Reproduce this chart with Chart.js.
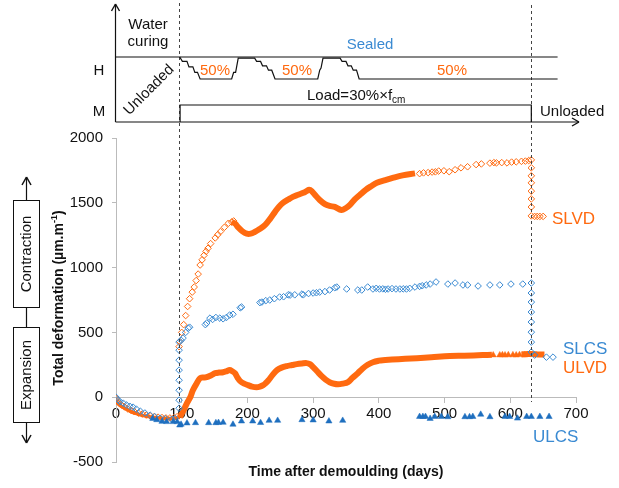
<!DOCTYPE html>
<html><head><meta charset="utf-8">
<script src="https://cdn.jsdelivr.net/npm/chart.js@4"></script>
<style>html,body{margin:0;padding:0;background:#fff;overflow:hidden}</style>
</head><body>
<canvas id="c" width="619" height="488" style="width:619px;height:488px;display:block"></canvas>
<script>
// ---------- DATA (day, total deformation µm/m) ----------
const xTicks = [0,100,200,300,400,500,600,700];
const yTicks = [-500,0,500,1000,1500,2000];

// SLVD (orange open diamonds)
const slvdMarkers = [
 [0,-10],[2,-30],[5,-45],[9,-62],[13,-75],[18,-90],[23,-102],[28,-112],[34,-122],[40,-130],[46,-138],[52,-144],[58,-150],[64,-154],[70,-157],[76,-160],[82,-160],[88,-158],[93,-150],
 [96,390],[97,430],[100,500],[103,560],[106,630],[109,700],[112,760],[116,811],[119,850],[122,900],[125,950],[128,1020],[131,1060],[134,1095],[137,1125],[140,1149],[144,1185],[151,1229],[155,1255],[159,1278],[165,1311],[171,1342],[176,1352],[179,1360],
 [462,1725],[468,1731],[475,1733],[481,1737],[486,1739],[491,1745],[499,1747],[507,1740],[516,1755],[525,1770],[535,1778],[548,1795],[556,1800],[569,1806],[575,1810],[579,1808],[587,1810],[595,1808],[602,1814],[609,1816],[617,1820],[623,1822],[628,1826],[632,1831],
 [632,1770],[632,1708],[632,1654],[632,1590],[632,1530],[632,1468],[632,1399],[637,1395],[641,1395],[645,1395],[650,1395]
];
// SLVD dense part (markers overlap into a band)
const slvdBand = [
 [176,1352],[181,1340],[186,1310],[192,1282],[199,1262],[205,1262],[211,1275],[218,1295],[227,1329],[235,1380],[242,1430],[248,1470],[254,1499],[262,1525],[269,1546],[277,1562],[285,1577],[290,1590],[294,1600],[298,1590],[303,1560],[310,1522],[318,1490],[325,1476],[333,1468],[343,1445],[350,1460],[356,1484],[363,1525],[371,1561],[380,1600],[389,1630],[397,1654],[410,1675],[421,1692],[436,1712],[455,1727]
];
// SLCS (blue open diamonds)
const slcsMarkers = [
 [0,0],[3,-20],[6,-35],[11,-46],[16,-60],[21,-70],[26,-77],[31,-92],[37,-108],[44,-122],[52,-139],[59,-150],[67,-162],[75,-166],[85,-170],[90,-165],
 [96,-85],[96,-23],[96,54],[96,131],[96,209],[96,286],[96,363],[96,425],
 [99,440],[102,456],[106,500],[110,533],[112,540],[136,560],[138,572],[143,610],[147,600],[152,615],[158,610],[163,605],[168,615],[173,634],[178,640],[189,690],[191,696],[219,730],[222,734],[228,745],[234,750],[241,760],[249,773],[255,775],[262,790],[265,788],[272,790],[283,796],[285,790],[293,800],[300,804],[305,806],[310,811],[318,815],[325,827],[333,845],[336,850],[351,835],[368,827],[374,827],[383,850],[391,835],[396,840],[401,835],[406,836],[410,833],[414,835],[420,838],[426,835],[432,835],[437,836],[442,835],[447,840],[455,850],[462,855],[466,860],[472,866],[478,873],[487,889],[505,873],[516,881],[528,866],[535,866],[551,858],[569,866],[584,866],[601,873],[619,873],[632,881],
 [632,804],[632,734],[632,657],[632,580],[632,502],[632,425],[632,348],[637,325],[655,309],[665,309]
];
// ULVD (orange, dense band + filled triangles)
const ulvdEarly = [
 [0,-20],[3,-50],[8,-70],[15,-90],[22,-110],[30,-125],[40,-140],[50,-150],[60,-158],[70,-162],[80,-165],[90,-163],[97,-155]
];
const ulvdBand = [
 [97,-155],[103,-100],[108,-46],[113,0],[117,54],[122,100],[128,147],[133,152],[138,155],[145,170],[151,185],[157,190],[163,193],[168,200],[173,209],[177,200],[181,185],[185,150],[189,124],[195,105],[201,93],[207,82],[214,77],[219,82],[224,93],[228,110],[232,131],[238,170],[245,209],[252,228],[260,240],[268,248],[275,255],[283,260],[290,263],[295,255],[300,232],[306,200],[313,162],[319,135],[325,116],[332,104],[338,100],[345,105],[353,116],[360,150],[368,185],[375,220],[383,250],[391,270],[400,282],[406,286],[420,290],[440,296],[458,301],[480,308],[508,317],[530,320],[558,325],[572,327],
 [596,null],
 [617,330],[622,332],[627,333],[632,333],[637,332],[642,330],[647,330],[652,330]
];
const ulvdMarkers = [[574,325],[584,325],[588,326],[592,325],[597,326],[604,326],[609,325],[614,327],[622,326]];
// ULCS (blue filled triangles)
const ulcsMarkers = [
 [56,-165],[62,-175],[70,-188],[77,-190],[87,-190],[93,-190],
 [97,-216],[99,-210],[108,-200],[121,-198],[141,-198],[152,-198],[156,-196],[163,-195],[178,-210],[191,-185],[208,-185],[220,-197],[233,-180],[246,-180],[283,-175],[300,-177],[324,-185],[345,-180],
 [462,-150],[467,-150],[471,-150],[478,-165],[485,-150],[495,-150],[505,-152],[531,-152],[538,-152],[543,-150],[555,-133],[569,-152],[592,-150],[599,-150],[611,-163],[625,-150],[632,-150],[645,-150],[659,-150]
];
// loading events (days): loading and unloading
const eventDays = [96, 632];
// humidity history path in the schematic: [day, level] (0 = sealed, 1 = 50 % RH)
const humidityPath = [
 [97,0],[101,0.2],[108,0.2],[111,0.45],[117,0.45],[120,0.7],[124,0.7],[128,1],[176,1],[179,0.7],[182,0.7],[186,0.05],[211,0.05],[214,0.2],[220,0.2],[223,0.4],[229,0.4],[232,0.6],[237,0.6],[242,1],[307,1],[310,0.6],[312,0.5],[315,0.05],[341,0.05],[344,0.2],[350,0.2],[353,0.4],[358,0.4],[361,0.6],[366,0.6],[370,1],[672,1]
];

// ---------- CHART ----------
const ORANGE = '#ff6a10', BLUE = '#3a8ad2', DBLUE = '#1e6fbf';
const FONT = "'Liberation Sans', Arial, Helvetica, sans-serif";
const xy = a => a.map(([x,y]) => ({x, y}));

const deco = {
  id: 'deco',
  afterDatasetsDraw(chart) {
    const {ctx, scales: {x}} = chart;
    ctx.save();
    ctx.strokeStyle = '#444'; ctx.lineWidth = 1; ctx.setLineDash([3,3]);
    const bottoms = [412, 402];
    eventDays.forEach((d, i) => {
      const px = Math.round(x.getPixelForValue(d)) + 0.5;
      ctx.beginPath(); ctx.moveTo(px, i === 0 ? 3 : 5); ctx.lineTo(px, bottoms[i]); ctx.stroke();
    });
    ctx.restore();
  },
  afterDraw(chart) {
    const {ctx, chartArea: ca, scales: {x}} = chart;
    const P = d => x.getPixelForValue(d);
    const txt = (s, px, py, o = {}) => {
      ctx.save();
      ctx.font = o.font || `15px ${FONT}`;
      ctx.fillStyle = o.color || '#111';
      ctx.textAlign = o.align || 'center';
      ctx.textBaseline = o.base || 'middle';
      ctx.translate(px, py);
      if (o.rot) ctx.rotate(o.rot);
      ctx.fillText(s, 0, 0);
      ctx.restore();
    };
    const line = (x1, y1, x2, y2, w = 1.2) => {
      ctx.beginPath(); ctx.lineWidth = w; ctx.moveTo(x1, y1); ctx.lineTo(x2, y2); ctx.stroke();
    };
    ctx.save();
    ctx.strokeStyle = '#111'; ctx.lineCap = 'butt'; ctx.lineJoin = 'miter';
    // ---- schematic ----
    const X0 = ca.left - 0.5, YB = 122, YT = 57, YL = 79, YM = 105;
    line(X0, YB, X0, 4);
    line(X0 - 4, 11, X0, 4, 1.4); line(X0 + 4, 11, X0, 4, 1.4);
    const XR = P(700) + 3;
    line(X0, YB, XR, YB);
    line(XR - 7, YB - 4, XR, YB, 1.4); line(XR - 7, YB + 4, XR, YB, 1.4);
    line(X0, YT, P(672), YT);
    ctx.beginPath(); ctx.lineWidth = 1.2;
    humidityPath.forEach(([d, l], i) => {
      const px = P(d), py = YT + l * (YL - YT);
      i ? ctx.lineTo(px, py) : ctx.moveTo(px, py);
    });
    ctx.stroke();
    // load rectangle
    const L1 = P(eventDays[0]) + 1, L2 = P(eventDays[1]);
    ctx.beginPath(); ctx.lineWidth = 1.2;
    ctx.moveTo(L1, YB); ctx.lineTo(L1, YM); ctx.lineTo(L2, YM); ctx.lineTo(L2, YB); ctx.stroke();
    txt('Water', 148, 25); txt('curing', 148, 42);
    txt('Sealed', 370, 45, {color: BLUE});
    txt('50%', 215, 71, {color: ORANGE}); txt('50%', 297, 71, {color: ORANGE}); txt('50%', 452, 71, {color: ORANGE});
    txt('H', 99, 71); txt('M', 99, 112);
    txt('Unloaded', 149, 90, {rot: -Math.PI / 4});
    ctx.font = `15px ${FONT}`;
    const lw = ctx.measureText('Load=30%×f').width;
    txt('Load=30%×f', 307, 100, {align: 'left', base: 'alphabetic'});
    txt('cm', 307 + lw, 103, {align: 'left', base: 'alphabetic', font: `10px ${FONT}`});
    txt('Unloaded', 540, 112, {align: 'left'});
    // ---- left contraction/expansion boxes ----
    line(26.5, 177, 26.5, 443);
    line(22, 185, 26.5, 177, 1.5); line(31, 185, 26.5, 177, 1.5);
    line(22, 435, 26.5, 443, 1.5); line(31, 435, 26.5, 443, 1.5);
    ctx.fillStyle = '#fff'; ctx.lineWidth = 1;
    ctx.fillRect(13.5, 200.5, 26, 107); ctx.strokeRect(13.5, 200.5, 26, 107);
    ctx.fillRect(13.5, 327.5, 26, 95); ctx.strokeRect(13.5, 327.5, 26, 95);
    txt('Contraction', 27, 254, {rot: -Math.PI / 2});
    txt('Expansion', 27, 375, {rot: -Math.PI / 2});
    // ---- axis titles ----
    ctx.font = `bold 14px ${FONT}`;
    const t1 = 'Total deformation (µm.m', t2 = '-1', t3 = ')';
    const w1 = ctx.measureText(t1).width, w3 = ctx.measureText(t3).width;
    ctx.font = `bold 9px ${FONT}`;
    const w2 = ctx.measureText(t2).width;
    const W = w1 + w2 + w3;
    ctx.save();
    ctx.translate(63, 298); ctx.rotate(-Math.PI / 2);
    ctx.fillStyle = '#111'; ctx.textBaseline = 'alphabetic'; ctx.textAlign = 'left';
    ctx.font = `bold 14px ${FONT}`; ctx.fillText(t1, -W / 2, 0);
    ctx.font = `bold 9px ${FONT}`; ctx.fillText(t2, -W / 2 + w1, -6);
    ctx.font = `bold 14px ${FONT}`; ctx.fillText(t3, -W / 2 + w1 + w2, 0);
    ctx.restore();
    txt('Time after demoulding (days)', 346, 472, {font: `bold 14px ${FONT}`});
    // ---- series labels ----
    const lf = `17px ${FONT}`;
    txt('SLVD', 552, 219, {align: 'left', color: ORANGE, font: lf});
    txt('SLCS', 563, 349, {align: 'left', color: BLUE, font: lf});
    txt('ULVD', 563, 368, {align: 'left', color: ORANGE, font: lf});
    txt('ULCS', 533, 437, {align: 'left', color: BLUE, font: lf});
    ctx.restore();
  }
};

new Chart(document.getElementById('c'), {
  type: 'scatter',
  data: {
    datasets: [
      {label: 'ULCS', data: xy(ulcsMarkers), pointStyle: 'triangle', pointRadius: 3.6, backgroundColor: DBLUE, borderColor: DBLUE, borderWidth: 0.5, order: 1},
      {label: 'SLCS', data: xy(slcsMarkers), pointStyle: 'rectRot', pointRadius: 3.3, backgroundColor: 'rgba(255,255,255,0)', borderColor: BLUE, borderWidth: 1, order: 2},
      {label: 'ULVD', data: xy(ulvdMarkers), pointStyle: 'triangle', pointRadius: 3.6, backgroundColor: ORANGE, borderColor: ORANGE, borderWidth: 0.5, order: 3},
      {label: 'ULVD band', data: xy(ulvdBand), showLine: true, pointRadius: 0, borderColor: ORANGE, borderWidth: 6, tension: 0.35, spanGaps: false, order: 4},
      {label: 'ULVD early', data: xy(ulvdEarly), showLine: true, pointRadius: 0, borderColor: ORANGE, borderWidth: 3.5, tension: 0.35, order: 5},
      {label: 'SLVD', data: xy(slvdMarkers), pointStyle: 'rectRot', pointRadius: 3.3, backgroundColor: 'rgba(255,255,255,0)', borderColor: ORANGE, borderWidth: 1, order: 6},
      {label: 'SLVD band', data: xy(slvdBand), showLine: true, pointRadius: 0, borderColor: ORANGE, borderWidth: 6, tension: 0.35, order: 7}
    ]
  },
  options: {
    responsive: false, animation: false, devicePixelRatio: 1,
    layout: {padding: {left: 50, top: 138, right: 43, bottom: 26}},
    plugins: {legend: {display: false}, tooltip: {enabled: false}},
    scales: {
      x: {
        type: 'linear', min: 0, max: 700, position: {y: 0},
        afterBuildTicks: s => { s.ticks = xTicks.map(v => ({value: v})); },
        ticks: {font: {size: 15, family: FONT}, color: '#111', padding: 3, maxRotation: 0, autoSkip: false, callback: v => String(v)},
        grid: {drawOnChartArea: false, drawTicks: true, tickLength: 5, color: '#bbb'},
        border: {color: '#bbb', width: 1}
      },
      y: {
        type: 'linear', min: -500, max: 2000,
        afterBuildTicks: s => { s.ticks = yTicks.map(v => ({value: v})); },
        afterFit: s => { s.width = 66; },
        ticks: {font: {size: 15, family: FONT}, color: '#111', padding: 9, callback: v => String(v)},
        grid: {drawOnChartArea: false, drawTicks: true, tickLength: 4, color: '#bbb'},
        border: {color: '#bbb', width: 1}
      }
    }
  },
  plugins: [deco]
});
</script>
</body></html>
